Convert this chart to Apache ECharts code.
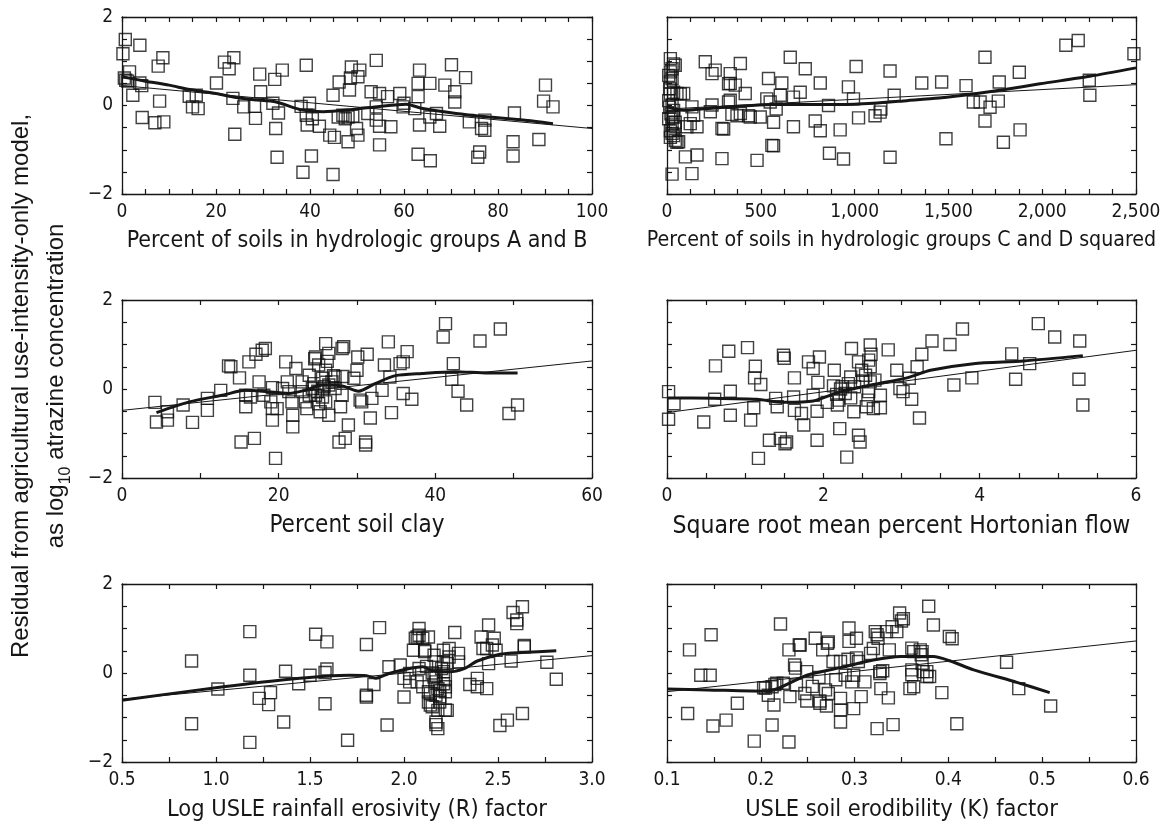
<!DOCTYPE html>
<html>
<head>
<meta charset="utf-8">
<script src="https://cdn.jsdelivr.net/npm/echarts@6/dist/echarts.min.js"></script>
<style>
  html, body { margin: 0; padding: 0; background: #fff; }
  #chart { width: 1165px; height: 833px; }
</style>
</head>
<body>
<div id="chart"></div>
<script>
// ---- Residuals versus candidate explanatory variables ----

// Percent of soils in hydrologic groups A and B
const hydAB = [[0.7,1.49],[0.2,1.17],[3.8,1.36],[8.7,1.08],[7.7,0.89],[1.6,0.76],[0.8,0.57],[2.3,0.23],[3.8,0.51],[4.3,-0.27],[7.0,-0.39],[8.9,-0.37],[8.0,0.10],[14.3,0.21],[15.8,0.23],[15.0,-0.03],[16.2,-0.07],[20.1,0.51],[21.8,0.98],[23.8,1.08],[22.8,0.83],[23.6,0.16],[24.0,-0.65],[25.9,-0.03],[28.2,-0.02],[28.4,-0.29],[29.3,0.71],[29.5,0.31],[32.5,0.59],[34.1,0.80],[32.1,0.05],[33.3,-0.17],[32.7,-0.52],[33.0,-1.17],[39.2,0.91],[38.1,-0.02],[39.9,0.05],[39.2,-0.22],[39.4,-0.44],[40.3,-1.14],[38.5,-1.51],[44.9,0.23],[46.2,0.53],[42.0,-0.47],[44.2,-0.67],[45.2,-0.72],[44.9,-1.56],[48.1,-0.82],[47.0,-0.22],[48.8,0.87],[48.6,0.62],[48.4,0.35],[50.6,0.80],[50.2,0.65],[50.2,-0.67],[49.9,-0.52],[49.1,-0.24],[48.1,-0.26],[54.1,1.02],[53.0,0.31],[54.8,0.27],[54.8,-0.89],[54.1,-0.33],[54.8,-0.47],[57.2,-0.48],[59.1,0.27],[59.8,-0.03],[54.1,-0.03],[52.3,-0.18],[63.3,0.80],[63.0,0.50],[63.0,0.20],[62.3,-0.07],[65.5,0.50],[63.3,-0.44],[63.0,-1.10],[65.6,-1.25],[66.9,-0.18],[67.6,-0.47],[65.5,-0.26],[70.1,0.92],[68.7,0.46],[70.8,0.31],[70.8,0.08],[73.1,0.63],[73.9,-0.37],[77.2,-0.33],[77.2,-0.56],[75.7,-1.17],[76.1,-1.05],[83.5,-0.17],[83.2,-0.82],[83.2,-1.14],[88.7,-0.77],[90.1,0.46],[89.7,0.10],[91.7,-0.03],[76.5,-0.52],[46.0,-0.26],[0.5,0.62],[1.2,0.55],[4.2,0.45],[40.5,-0.30],[47.5,-0.30],[56.5,0.20],[60.0,0.05]];
const hydABSmooth = [[0,0.65],[5,0.55],[10,0.46],[14.4,0.36],[20,0.27],[24.3,0.18],[28,0.13],[32.8,0.08],[37.8,-0.09],[42.8,-0.14],[49.1,-0.09],[54.8,-0.02],[60.5,0.03],[64,-0.07],[71.1,-0.18],[78.2,-0.26],[85.3,-0.33],[91.7,-0.41]];
const hydABFit = [[0,0.45],[100,-0.52]];

// Percent of soils in hydrologic groups C and D, squared
const hydCD2 = [[18,1.06],[35,0.94],[27,0.83],[9,0.68],[18,0.53],[14,0.38],[18,0.26],[35,0.30],[71,0.26],[9,0.11],[14,-0.04],[21,-0.19],[9,-0.30],[27,-0.42],[18,-0.57],[35,-0.68],[53,-0.83],[27,-1.55],[35,-0.11],[27,-0.26],[44,-0.38],[18,-0.72],[44,0.91],[18,0.76],[27,0.61],[53,0.27],[89,0.27],[27,0.01],[36,-0.26],[44,-0.48],[27,-0.63],[44,-0.79],[62,-0.82],[124,-0.41],[142,-0.22],[133,-0.03],[106,-0.48],[160,-0.48],[98,-1.16],[160,-1.12],[133,-1.54],[240,0.01],[231,-0.14],[293,-0.52],[293,-1.20],[204,0.99],[257,0.80],[240,0.72],[337,0.72],[337,0.50],[364,0.46],[391,0.95],[417,0.27],[337,0.12],[391,-0.18],[346,-0.20],[444,-0.26],[497,-0.26],[541,0.61],[550,0.08],[480,-1.24],[559,-0.90],[328,0.49],[328,0.08],[373,-0.23],[435,-0.23],[302,-0.53],[532,0.15],[582,-0.08],[568,-0.38],[568,-0.91],[612,0.51],[604,0.23],[657,1.09],[674,0.19],[710,0.30],[737,0.83],[674,-0.48],[790,-0.35],[817,0.51],[817,-0.57],[861,0.00],[866,-1.08],[923,-0.55],[941,-1.21],[967,0.42],[994,0.15],[1008,0.88],[1021,-0.28],[1109,-0.23],[1136,-0.15],[1140,-0.08],[1189,0.78],[1211,0.23],[1189,-1.17],[1358,0.51],[1464,0.53],[1487,-0.75],[1594,0.45],[1633,0.08],[1669,0.08],[1722,-0.04],[1695,1.09],[1695,-0.35],[1766,0.10],[1771,0.53],[1793,-0.83],[1878,0.75],[1882,-0.55],[2126,1.36],[2192,1.47],[2251,0.57],[2254,0.23],[2489,1.17]];
const hydCD2Smooth = [[0,-0.02],[40,-0.08],[89,-0.11],[180,-0.08],[302,-0.04],[450,0.0],[568,0.02],[750,0.02],[923,0.02],[1100,0.05],[1278,0.11],[1450,0.17],[1633,0.26],[1800,0.36],[1988,0.49],[2254,0.66],[2500,0.85]];
const hydCD2Fit = [[0,-0.08],[2500,0.47]];

// Percent soil clay
const clay = [[4.2,-0.30],[4.4,-0.74],[5.8,-0.70],[5.8,-0.51],[7.8,-0.36],[9.0,-0.75],[10.9,-0.21],[10.9,-0.48],[12.6,-0.03],[13.9,0.50],[15.0,0.25],[15.8,-0.40],[16.2,0.61],[17.1,0.78],[17.9,0.87],[18.3,0.91],[15.8,-0.14],[16.4,-0.18],[17.5,0.16],[18.1,-0.14],[19.2,0.03],[19.2,-0.44],[19.2,-0.70],[19.8,-0.44],[15.2,-1.19],[16.9,-1.11],[19.6,-1.56],[20.9,0.61],[21.1,0.16],[21.3,-0.06],[21.7,-0.29],[21.8,-0.59],[21.8,-0.85],[22.2,0.46],[23.0,0.16],[23.4,-0.29],[23.6,-0.44],[23.9,0.31],[24.3,0.01],[24.7,0.72],[25.1,0.54],[25.6,0.24],[24.7,-0.14],[25.1,-0.33],[25.3,-0.51],[26.0,1.02],[26.4,0.80],[26.0,0.42],[26.4,0.09],[26.0,-0.29],[26.4,-0.59],[27.2,0.27],[27.9,-0.40],[28.1,0.91],[28.3,0.95],[27.7,-1.19],[28.5,-1.11],[28.9,-0.81],[30.0,0.42],[29.6,0.24],[30.1,0.72],[31.3,0.78],[30.4,-0.25],[30.6,-0.29],[31.1,-1.19],[31.1,-1.26],[31.9,-0.21],[31.7,-0.65],[33.2,-0.03],[34.0,1.06],[33.5,0.54],[34.2,0.27],[34.4,-0.53],[35.5,0.57],[35.9,0.61],[36.4,0.84],[35.9,-0.10],[37.0,-0.23],[41.0,1.17],[41.3,1.47],[42.3,0.57],[42.1,0.22],[42.9,-0.05],[44.0,-0.36],[45.7,1.08],[48.3,1.35],[49.4,-0.55],[50.5,-0.36],[23.9,-0.14],[24.5,0.12],[25.6,0.01],[26.8,0.16],[27.2,0.01],[28.1,-0.14],[25.6,-0.18],[23.0,-0.06],[20.5,0.01],[19.0,-0.29],[13.6,0.52],[24.6,0.68],[26.2,0.62],[27.0,0.30],[28.2,0.28],[25.8,0.05],[25.0,-0.05]];
const claySmooth = [[4.4,-0.53],[8.6,-0.29],[12.8,-0.14],[15.8,-0.03],[17.9,-0.05],[21.3,-0.10],[23.4,-0.03],[25.6,0.09],[28.1,0.07],[30.2,-0.05],[32.3,0.12],[34.9,0.30],[38.3,0.35],[42.5,0.39],[46.7,0.36],[50.5,0.36]];
const clayFit = [[0,-0.48],[60,0.63]];

// Square root of mean percent Hortonian overland flow
const horton = [[0.02,-0.06],[0.09,-0.33],[0.02,-0.68],[0.47,-0.74],[0.62,0.52],[0.61,-0.23],[0.79,0.85],[0.81,-0.05],[0.81,-0.59],[1.03,0.93],[1.13,0.51],[1.12,0.25],[1.20,0.10],[1.11,-0.42],[1.07,-0.70],[1.17,-1.56],[1.31,-1.15],[1.39,-0.21],[1.41,-0.40],[1.49,0.76],[1.50,0.69],[1.45,-1.11],[1.51,-1.23],[1.53,-1.19],[1.63,0.25],[1.62,-0.18],[1.63,-0.48],[1.72,-0.55],[1.75,-0.81],[1.81,0.61],[1.87,0.46],[1.95,0.72],[1.93,0.15],[1.87,-0.14],[1.92,-0.50],[1.92,-1.15],[2.14,0.42],[2.13,0.07],[2.17,-0.12],[2.18,-0.36],[2.21,-0.89],[2.22,0.00],[2.24,0.05],[2.32,0.12],[2.35,0.27],[2.36,0.91],[2.39,-0.51],[2.30,-1.53],[2.45,-1.04],[2.47,-1.19],[2.45,0.61],[2.49,0.42],[2.54,0.31],[2.60,0.99],[2.61,0.78],[2.58,0.65],[2.60,0.50],[2.60,0.16],[2.58,-0.06],[2.55,-0.40],[2.64,-0.44],[2.73,-0.42],[2.83,0.88],[2.73,-0.14],[2.94,0.42],[2.98,0.01],[3.02,-0.06],[3.13,-0.23],[3.10,0.24],[3.20,0.50],[3.23,-0.65],[3.26,0.78],[3.39,1.08],[3.62,1.00],[3.78,1.35],[3.67,0.09],[3.90,0.25],[4.41,0.79],[4.46,0.22],[4.64,0.57],[4.75,1.47],[4.96,1.17],[5.28,1.08],[5.27,0.22],[5.32,-0.36],[2.28,-0.10],[2.40,0.05],[2.50,0.18],[2.66,0.20],[2.20,-0.25],[2.05,-0.30],[2.35,-0.20],[2.57,-0.25]];
const hortonSmooth = [[0,-0.20],[0.6,-0.21],[1.15,-0.23],[1.49,-0.30],[1.87,-0.27],[2.22,-0.06],[2.64,0.10],[3.07,0.25],[3.37,0.42],[3.92,0.57],[4.56,0.63],[5.32,0.75]];
const hortonFit = [[0,-0.53],[6,0.87]];

// Log USLE rainfall erosivity (R) factor
const rainR = [[0.87,0.27],[0.87,-1.14],[1.01,-0.36],[1.18,0.93],[1.18,-0.05],[1.18,-1.56],[1.23,-0.57],[1.28,-0.71],[1.29,-0.44],[1.36,-1.10],[1.37,0.04],[1.44,-0.24],[1.50,-0.05],[1.53,0.87],[1.58,0.01],[1.58,-0.69],[1.59,0.70],[1.59,0.09],[1.70,-1.51],[1.80,0.64],[1.80,-0.50],[1.80,-0.54],[1.84,-0.26],[1.87,1.02],[1.91,-1.17],[1.92,0.14],[1.98,0.18],[2.00,-0.54],[2.00,-0.12],[2.03,-0.20],[2.08,1.00],[2.06,0.78],[2.05,0.51],[2.08,0.85],[2.10,0.78],[2.11,0.48],[2.08,0.10],[2.07,-0.20],[2.10,-0.31],[2.13,-0.42],[2.13,-0.65],[2.14,-0.72],[2.16,0.40],[2.17,0.25],[2.17,-0.05],[2.17,-0.20],[2.18,-0.35],[2.17,-0.50],[2.19,-0.65],[2.18,-0.84],[2.17,-1.16],[2.18,-1.25],[2.21,0.51],[2.21,0.25],[2.21,0.03],[2.22,-0.12],[2.22,-0.31],[2.22,-0.42],[2.23,-0.84],[2.24,0.55],[2.24,0.36],[2.27,0.91],[2.29,0.44],[2.29,0.25],[2.35,-0.26],[2.39,-0.12],[2.39,-0.31],[2.41,0.81],[2.42,0.55],[2.45,1.08],[2.44,-0.35],[2.45,0.21],[2.47,0.63],[2.48,0.78],[2.49,0.51],[2.51,-1.18],[2.55,-1.06],[2.57,0.27],[2.58,1.36],[2.60,1.11],[2.60,1.19],[2.63,-0.91],[2.63,1.49],[2.64,0.59],[2.76,0.24],[2.81,-0.14],[2.07,0.81],[2.13,0.81],[2.11,0.51],[2.23,0.21],[2.03,-0.01],[2.16,-0.09],[2.21,-0.24],[2.14,-0.46],[2.19,-0.53],[2.15,-0.76],[2.22,-0.83],[2.17,-1.10],[2.44,0.55],[2.64,0.62],[2.12,0.15],[2.20,0.10],[2.15,0.00],[2.19,-0.40]];
const rainRSmooth = [[0.5,-0.61],[1.04,-0.31],[1.39,-0.14],[1.71,-0.05],[1.80,-0.06],[1.85,-0.12],[1.92,-0.01],[2.03,0.10],[2.10,0.14],[2.16,0.04],[2.24,0.03],[2.32,0.10],[2.39,0.27],[2.51,0.42],[2.63,0.46],[2.81,0.50]];
const rainRFit = [[0.5,-0.59],[3.0,0.39]];

// USLE soil erodibility (K) factor
const soilK = [[0.124,0.52],[0.122,-0.91],[0.136,-0.05],[0.146,-0.05],[0.147,0.86],[0.149,-1.19],[0.163,-1.06],[0.175,-0.68],[0.193,-1.53],[0.203,-0.33],[0.212,-1.17],[0.214,-0.72],[0.221,1.10],[0.208,-0.50],[0.212,-0.31],[0.215,-0.26],[0.217,-0.23],[0.230,0.52],[0.230,-1.55],[0.236,0.18],[0.237,0.11],[0.241,0.63],[0.238,-0.27],[0.249,0.03],[0.247,-0.46],[0.258,0.78],[0.263,-0.68],[0.266,0.52],[0.271,0.67],[0.269,-0.38],[0.272,-0.46],[0.285,-0.57],[0.285,-0.83],[0.285,-1.10],[0.277,0.26],[0.285,0.26],[0.294,1.01],[0.294,0.71],[0.299,-0.80],[0.302,0.78],[0.304,0.26],[0.307,-0.53],[0.297,-0.20],[0.311,-0.20],[0.317,0.44],[0.322,0.93],[0.324,0.86],[0.324,-1.25],[0.327,0.03],[0.330,0.05],[0.328,-0.35],[0.336,-0.56],[0.334,0.93],[0.337,0.52],[0.345,0.93],[0.341,-1.16],[0.348,1.35],[0.350,1.17],[0.359,-0.35],[0.361,0.07],[0.361,0.56],[0.363,-0.31],[0.370,0.52],[0.371,0.41],[0.372,0.22],[0.373,0.03],[0.377,-0.08],[0.380,-0.08],[0.379,1.50],[0.384,1.08],[0.393,-0.44],[0.401,0.82],[0.404,0.77],[0.409,-1.14],[0.462,0.24],[0.475,-0.35],[0.509,-0.74],[0.205,-0.34],[0.224,-0.23],[0.242,0.63],[0.272,0.70],[0.293,0.31],[0.302,0.34],[0.290,-0.05],[0.299,-0.05],[0.320,0.55],[0.325,0.78],[0.340,1.04],[0.352,1.22],[0.372,0.48],[0.363,0.48],[0.377,0.03],[0.361,-0.04],[0.327,-0.01],[0.270,-0.74],[0.263,-0.63],[0.249,-0.63],[0.231,-0.53],[0.262,-0.10],[0.255,-0.30],[0.280,-0.15]];
const soilKSmooth = [[0.1,-0.36],[0.143,-0.38],[0.207,-0.41],[0.249,-0.05],[0.285,0.12],[0.320,0.29],[0.349,0.37],[0.384,0.37],[0.402,0.27],[0.427,0.07],[0.473,-0.21],[0.508,-0.44]];
const soilKFit = [[0.1,-0.42],[0.6,0.72]];

// Axis titles
const xTitles = [
  'Percent of soils in hydrologic groups A and B',
  'Percent of soils in hydrologic groups C and D squared',
  'Percent soil clay',
  'Square root mean percent Hortonian flow',
  'Log USLE rainfall erosivity (R) factor',
  'USLE soil erodibility (K) factor'
];
const yTitle = 'Residual from agricultural use-intensity-only model,\nas log{sub|10} atrazine concentration';

// x-axis ranges: [min, max, minor tick step, labelled step]
const xRanges = [
  [0, 100, 5, 20],
  [0, 2500, 125, 500],
  [0, 60, 10, 20],
  [0, 6, 0.5, 2],
  [0.5, 3.0, 0.25, 0.5],
  [0.1, 0.6, 0.05, 0.1]
];
// y-axis range shared by every panel
const yRange = [-2, 2, 0.5, 2];

const pointSets = [hydAB, hydCD2, clay, horton, rainR, soilK];
const smoothSets = [hydABSmooth, hydCD2Smooth, claySmooth, hortonSmooth, rainRSmooth, soilKSmooth];
const fitSets = [hydABFit, hydCD2Fit, clayFit, hortonFit, rainRFit, soilKFit];

// ---- layout ----
const NARROW = '"DejaVu Sans Condensed", "Liberation Sans", sans-serif';
const REG = '"Liberation Sans", Arial, sans-serif';
const INK = '#161616';
const gridBoxes = [
  {left: 122, top: 17, width: 470, height: 177},
  {left: 667, top: 17, width: 469, height: 177},
  {left: 122, top: 300, width: 470, height: 178},
  {left: 667, top: 300, width: 469, height: 178},
  {left: 122, top: 584, width: 470, height: 178},
  {left: 667, top: 584, width: 469, height: 178}
];
// title sizes so each title spans the same width as its panel caption
const titleSizes = [23, 21.2, 24, 24.5, 23.4, 23.4];

function isMultiple(v, step) {
  const q = v / step;
  return Math.abs(q - Math.round(q)) < 1e-6;
}
function fmtX(panel, v) {
  if (panel === 1) return Math.round(v).toLocaleString('en-US');
  if (panel >= 4) return v.toFixed(1);
  return String(Math.round(v));
}
function fmtY(v) {
  return v < 0 ? '\u2212' + String(Math.abs(v)) : String(v);
}

const grid = [], xAxis = [], yAxis = [], series = [];
const tick = {show: true, inside: true, length: 5, lineStyle: {color: INK, width: 1.2}};
const line = {show: true, onZero: false, lineStyle: {color: INK, width: 1.3}};

gridBoxes.forEach((g, i) => {
  grid.push(Object.assign({containLabel: false}, g));
  const [xmin, xmax, xstep, xlab] = xRanges[i];
  // bottom axis with labels and title
  xAxis.push({
    type: 'value', gridIndex: i, position: 'bottom', min: xmin, max: xmax, interval: xstep,
    axisLine: line, axisTick: tick, splitLine: {show: false},
    axisLabel: {
      show: true, margin: 9, color: INK, fontFamily: NARROW, fontSize: 19,
      showMinLabel: true, showMaxLabel: true,
      formatter: v => isMultiple(v - xmin, xlab) || isMultiple(v, xlab) ? fmtX(i, v) : ''
    },
    name: xTitles[i], nameLocation: 'middle', nameGap: 36,
    nameTextStyle: {color: INK, fontFamily: NARROW, fontSize: titleSizes[i]}
  });
  // top frame edge
  xAxis.push({
    type: 'value', gridIndex: i, position: 'top', min: xmin, max: xmax, interval: xstep,
    axisLine: line, axisTick: tick, axisLabel: {show: false}, splitLine: {show: false}
  });
  const [ymin, ymax, ystep, ylab] = yRange;
  yAxis.push({
    type: 'value', gridIndex: i, position: 'left', min: ymin, max: ymax, interval: ystep,
    axisLine: line, axisTick: tick, splitLine: {show: false},
    axisLabel: {
      show: i % 2 === 0, margin: 9, color: INK, fontFamily: NARROW, fontSize: 19,
      formatter: v => isMultiple(v, ylab) ? fmtY(v) : ''
    }
  });
  yAxis.push({
    type: 'value', gridIndex: i, position: 'right', min: ymin, max: ymax, interval: ystep,
    axisLine: line, axisTick: tick, axisLabel: {show: false}, splitLine: {show: false}
  });

  series.push({
    type: 'scatter', xAxisIndex: 2 * i, yAxisIndex: 2 * i, data: pointSets[i],
    symbol: 'rect', symbolSize: 12, clip: true, silent: true,
    itemStyle: {color: 'rgba(0,0,0,0)', borderColor: '#111111', borderWidth: 1.4}
  });
  series.push({
    type: 'line', xAxisIndex: 2 * i, yAxisIndex: 2 * i, data: fitSets[i],
    showSymbol: false, clip: true, silent: true, lineStyle: {color: INK, width: 1}
  });
  series.push({
    type: 'line', xAxisIndex: 2 * i, yAxisIndex: 2 * i, data: smoothSets[i],
    showSymbol: false, smooth: 0.25, clip: true, silent: true, lineStyle: {color: INK, width: 3}
  });
});

const chart = echarts.init(document.getElementById('chart'), null, {renderer: 'canvas'});
chart.setOption({
  animation: false,
  backgroundColor: '#ffffff',
  grid, xAxis, yAxis, series,
  graphic: [{
    type: 'text', x: 39, y: 386, rotation: Math.PI / 2,
    style: {
      text: yTitle, fill: INK, font: '24px ' + REG, align: 'center', verticalAlign: 'middle',
      lineHeight: 35,
      rich: {sub: {fontSize: 16, fontFamily: REG, verticalAlign: 'bottom', lineHeight: 26, fill: INK}}
    }
  }]
});
</script>
</body>
</html>
